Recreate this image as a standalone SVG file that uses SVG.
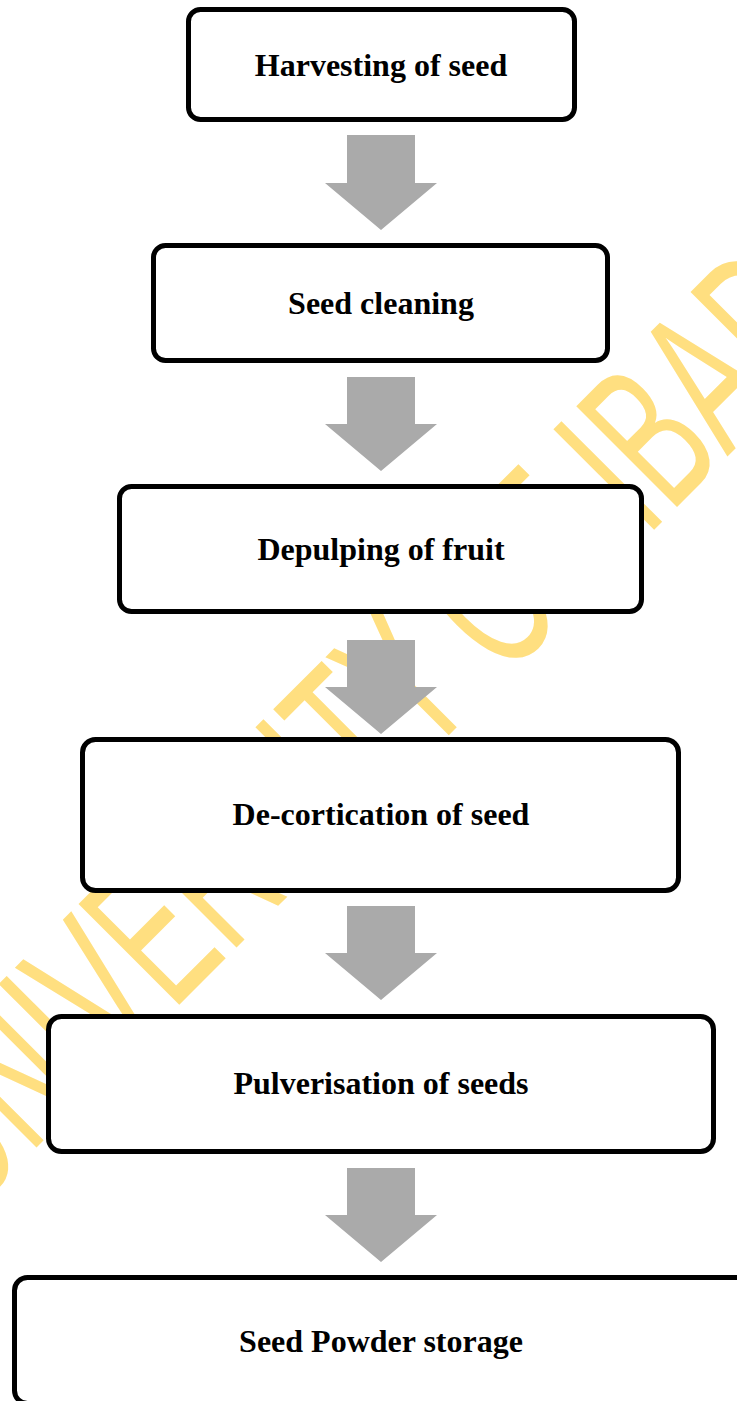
<svg xmlns="http://www.w3.org/2000/svg" width="737" height="1401" viewBox="0 0 737 1401">
<style>
.box{fill:#FFFFFF;stroke:#000000;stroke-width:5}
.lbl{font-family:"Liberation Serif","Times New Roman",serif;font-weight:bold;font-size:32px;fill:#000000;text-anchor:middle}
.arr{fill:#AAAAAA}
.wm{font-family:"Liberation Sans",Arial,sans-serif;font-size:100px;fill:#FFDF80}
</style>
<rect x="0" y="0" width="737" height="1401" fill="#FFFFFF"/>
<g id="watermark">
<text class="wm" transform="matrix(0.856 -0.856 1.464 1.464 -32.2 1216.2)">UNIVERSITY OF IBADAN</text>
</g>
<g id="connectors">
<path class="arr" d="M347,135 H415 V183 H437 L381,230 L325,183 H347 Z"/>
<path class="arr" d="M347,377 H415 V424 H437 L381,471 L325,424 H347 Z"/>
<path class="arr" d="M347,640 H415 V687 H437 L381,734 L325,687 H347 Z"/>
<path class="arr" d="M347,906 H415 V953 H437 L381,1000 L325,953 H347 Z"/>
<path class="arr" d="M347,1168 H415 V1215 H437 L381,1262 L325,1215 H347 Z"/>
</g>
<g id="node1">
<rect class="box" x="188.5" y="9.5" width="386" height="110" rx="12"/>
<text class="lbl" x="381" y="76">Harvesting of seed</text>
</g>
<g id="node2">
<rect class="box" x="153.5" y="245.5" width="454" height="115" rx="12"/>
<text class="lbl" x="381" y="314">Seed cleaning</text>
</g>
<g id="node3">
<rect class="box" x="119.5" y="486.5" width="522" height="125" rx="12"/>
<text class="lbl" x="381" y="560">Depulping of fruit</text>
</g>
<g id="node4">
<rect class="box" x="82.5" y="739.5" width="596" height="151" rx="13"/>
<text class="lbl" x="381" y="825">De-cortication of seed</text>
</g>
<g id="node5">
<rect class="box" x="48.5" y="1016.5" width="665" height="135" rx="13"/>
<text class="lbl" x="381" y="1094">Pulverisation of seeds</text>
</g>
<g id="node6">
<rect class="box" x="14.5" y="1277.5" width="734" height="126" rx="13"/>
<text class="lbl" x="381" y="1352">Seed Powder storage</text>
</g>
</svg>
